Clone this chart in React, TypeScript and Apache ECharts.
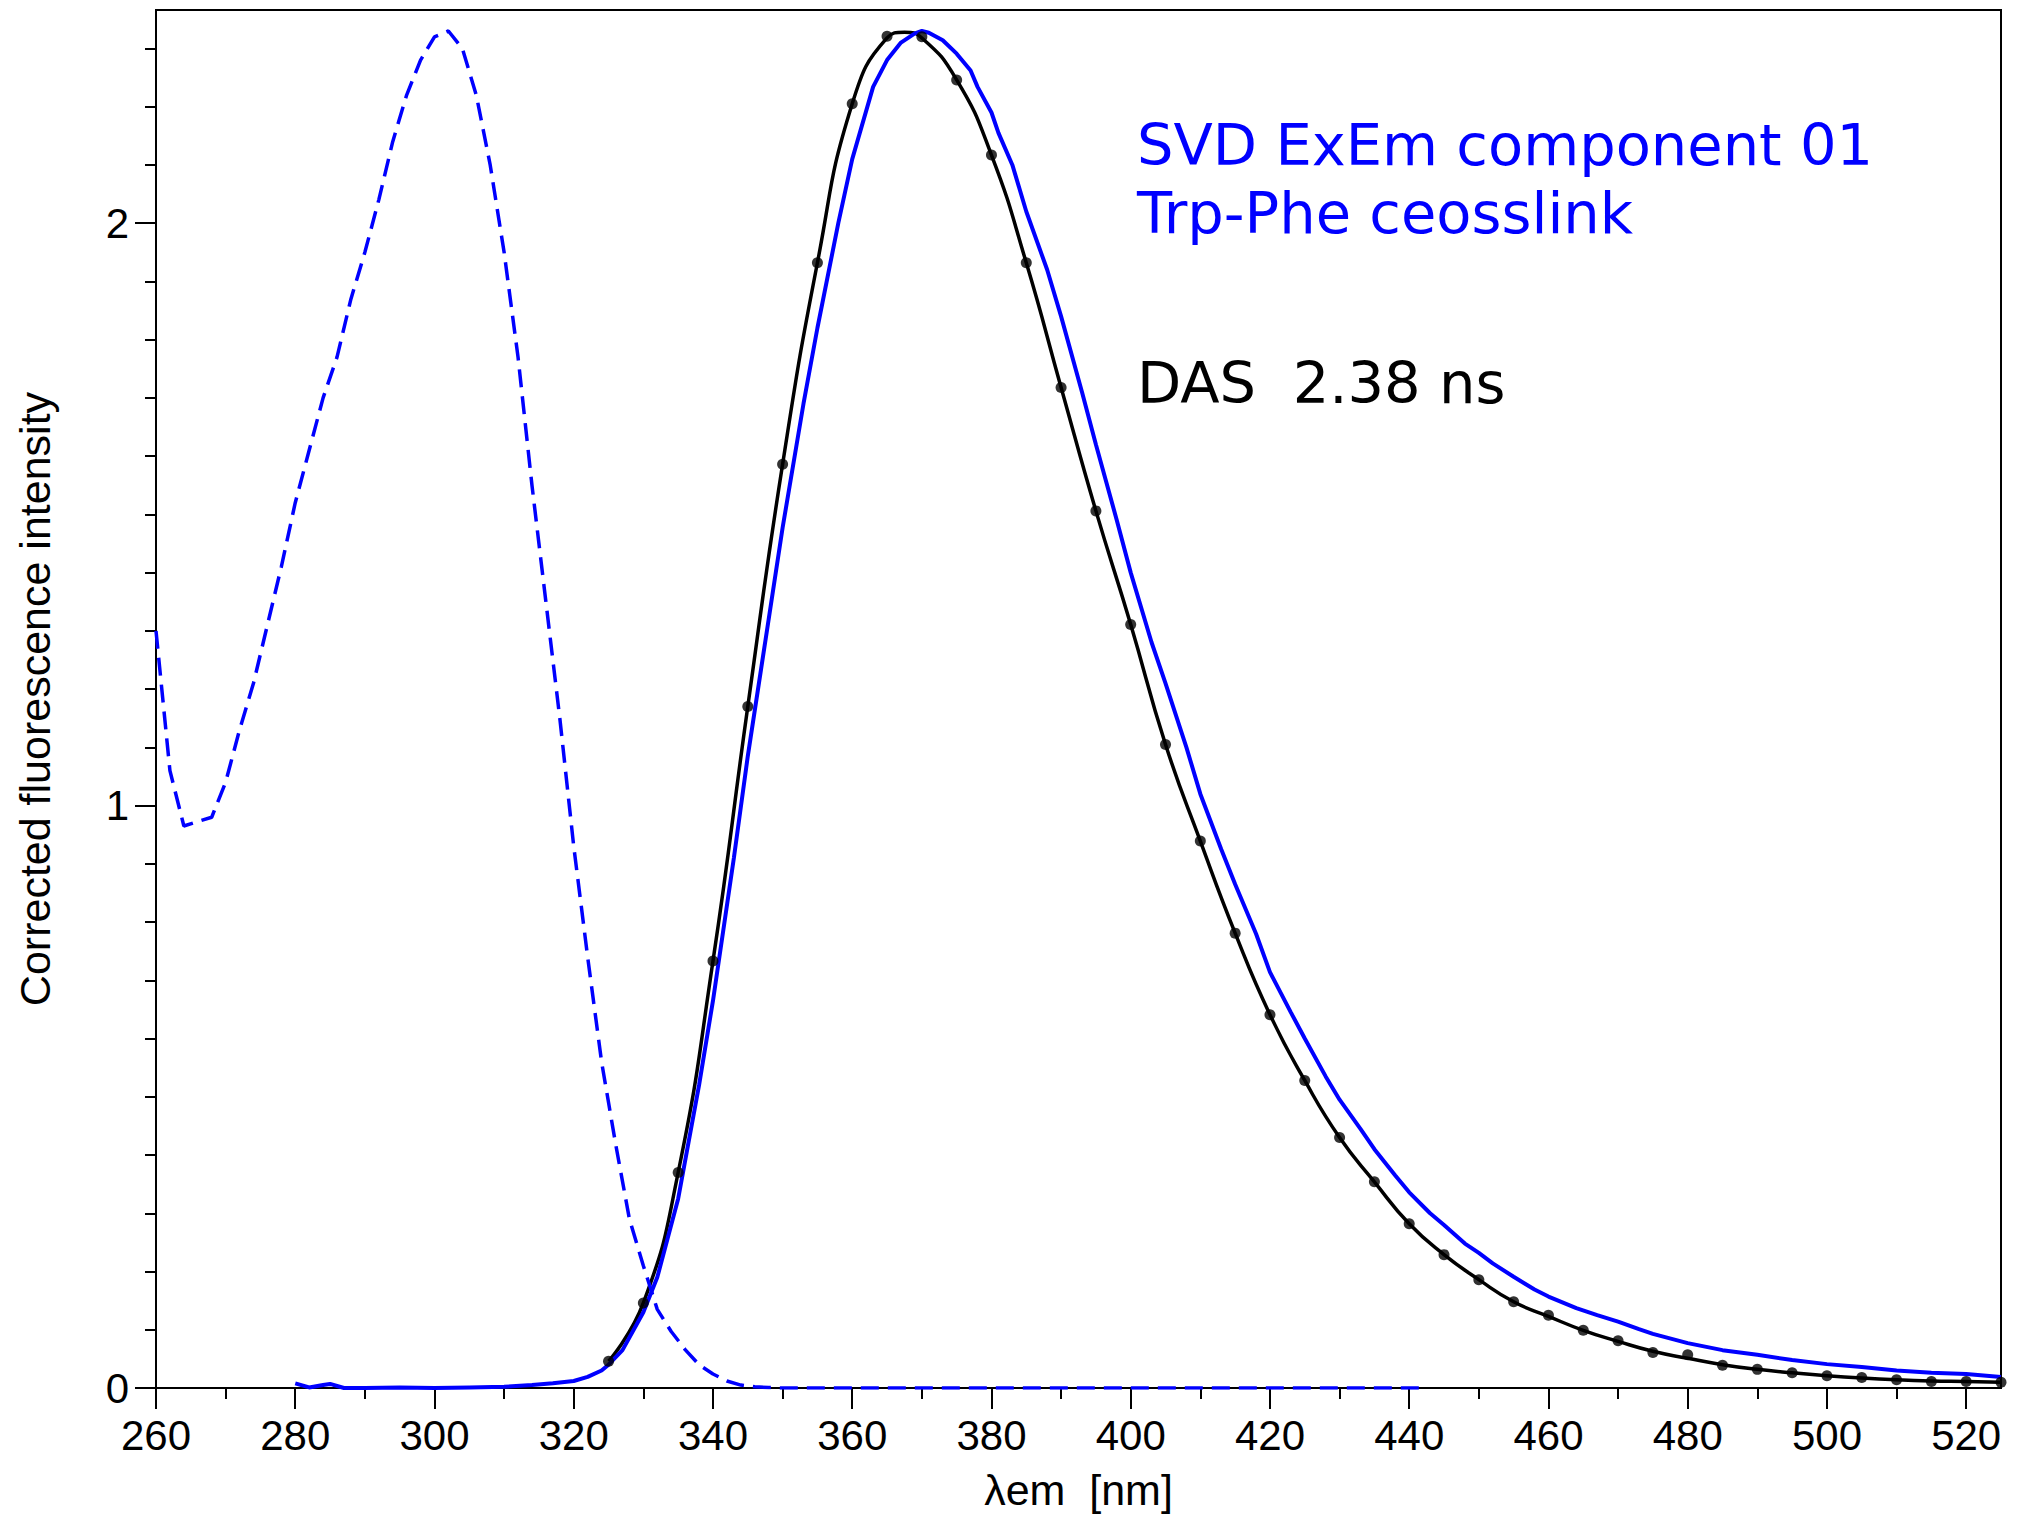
import React, { useEffect, useRef } from "react";
import * as echarts from "echarts";

// Excitation spectrum (blue dashed)
const excitationNm = [260, 262, 264, 268, 270, 272, 274, 276, 278, 280, 282, 284, 286, 288, 290, 292, 294, 296, 298, 300, 302, 304, 306, 308, 310, 312, 314, 316, 318, 320, 322, 324, 326, 328, 330, 332, 334, 336, 338, 340, 342, 344, 346, 348, 350, 360, 380, 400, 420, 442];
const excitationVal = [1.30, 1.06, 0.965, 0.98, 1.04, 1.13, 1.21, 1.31, 1.41, 1.52, 1.61, 1.70, 1.77, 1.87, 1.95, 2.04, 2.14, 2.22, 2.28, 2.32, 2.33, 2.30, 2.22, 2.10, 1.95, 1.77, 1.55, 1.35, 1.15, 0.93, 0.74, 0.56, 0.42, 0.29, 0.21, 0.135, 0.097, 0.066, 0.040, 0.024, 0.012, 0.005, 0.002, 0.001, 0, 0, 0, 0, 0, 0];

// Measured emission spectrum (blue solid)
const emissionNm = [280, 282, 284, 285, 287, 290, 295, 300, 305, 310, 314, 317, 320, 322, 324, 325, 327, 330, 332, 335, 338, 340, 343, 345, 348, 350, 353, 355, 358, 360, 363, 365, 367, 369, 370, 371, 373, 375, 377, 378, 380, 381, 383, 385, 388, 390, 393, 395, 398, 400, 403, 405, 408, 410, 413, 415, 418, 420, 423, 425, 428, 430, 433, 435, 438, 440, 443, 445, 448, 450, 452, 455, 458, 460, 464, 467, 470, 473, 475, 480, 485, 490, 495, 500, 505, 510, 515, 520, 525];
const emissionVal = [0.008, 0.001, 0.005, 0.007, 0.0, 0.0, 0.001, 0.0, 0.001, 0.002, 0.005, 0.008, 0.012, 0.019, 0.03, 0.04, 0.065, 0.13, 0.19, 0.325, 0.52, 0.665, 0.91, 1.085, 1.32, 1.477, 1.69, 1.82, 2.00, 2.11, 2.234, 2.28, 2.31, 2.326, 2.33, 2.327, 2.314, 2.291, 2.262, 2.234, 2.19, 2.155, 2.10, 2.02, 1.92, 1.84, 1.71, 1.62, 1.49, 1.40, 1.28, 1.21, 1.10, 1.02, 0.925, 0.865, 0.78, 0.714, 0.645, 0.60, 0.535, 0.495, 0.445, 0.41, 0.365, 0.336, 0.30, 0.28, 0.248, 0.232, 0.214, 0.191, 0.169, 0.157, 0.137, 0.125, 0.114, 0.101, 0.093, 0.077, 0.065, 0.057, 0.048, 0.041, 0.036, 0.030, 0.026, 0.024, 0.019];

// DAS fit sample points (black dots)
const fitDotNm = [325, 330, 335, 340, 345, 350, 355, 360, 365, 370, 375, 380, 385, 390, 395, 400, 405, 410, 415, 420, 425, 430, 435, 440, 445, 450, 455, 460, 465, 470, 475, 480, 485, 490, 495, 500, 505, 510, 515, 520, 525];
const fitDotVal = [0.046, 0.146, 0.37, 0.733, 1.17, 1.586, 1.932, 2.205, 2.321, 2.32, 2.246, 2.117, 1.932, 1.718, 1.506, 1.311, 1.105, 0.939, 0.781, 0.641, 0.528, 0.43, 0.354, 0.282, 0.229, 0.186, 0.148, 0.125, 0.099, 0.081, 0.061, 0.057, 0.039, 0.032, 0.026, 0.021, 0.018, 0.014, 0.011, 0.011, 0.0097];

// DAS fit curve (black solid)
const fitCurveNm = [325, 330, 335, 340, 345, 350, 355, 360, 365, 367.5, 370, 375, 380, 385, 390, 395, 400, 405, 410, 415, 420, 425, 430, 435, 440, 445, 450, 455, 460, 465, 470, 475, 480, 485, 490, 495, 500, 505, 510, 515, 520, 525];
const fitCurveVal = [0.046, 0.146, 0.37, 0.733, 1.17, 1.586, 1.932, 2.205, 2.318, 2.328, 2.318, 2.246, 2.117, 1.932, 1.718, 1.506, 1.311, 1.105, 0.939, 0.781, 0.641, 0.528, 0.43, 0.354, 0.282, 0.229, 0.186, 0.148, 0.123, 0.099, 0.08, 0.063, 0.051, 0.04, 0.032, 0.026, 0.021, 0.017, 0.014, 0.012, 0.011, 0.0097];

// Axis ticks
const xMajorTicks = [260, 280, 300, 320, 340, 360, 380, 400, 420, 440, 460, 480, 500, 520];
const xMinorTicks = [270, 290, 310, 330, 350, 370, 390, 410, 430, 450, 470, 490, 510];
const yMajorTicks = [0, 1, 2];
const yMinorTicks = [0.1, 0.2, 0.3, 0.4, 0.5, 0.6, 0.7, 0.8, 0.9, 1.1, 1.2, 1.3, 1.4, 1.5, 1.6, 1.7, 1.8, 1.9, 2.1, 2.2, 2.3];

const BLUE = "#0000FF";
const FONT = "Liberation Sans";
const ANNO_FONT = "DejaVu Sans";

const pairs = (xs: number[], ys: number[]) => xs.map((x, i) => [x, ys[i]]);

export default function App() {
  const ref = useRef<HTMLDivElement>(null);
  useEffect(() => {
    const chart = echarts.init(ref.current!, null, { renderer: "svg" });
    const axisLine = { show: true, onZero: false, lineStyle: { color: "#000", width: 2 } };
    chart.setOption({
      animation: false,
      backgroundColor: "#fff",
      textStyle: { fontFamily: FONT },
      grid: {
        left: 156,
        right: 26,
        top: 10,
        bottom: 128,
        show: true,
        borderColor: "#000",
        borderWidth: 2,
        backgroundColor: "transparent",
      },
      xAxis: [
        {
          type: "value",
          min: 260,
          max: 525,
          position: "bottom",
          axisLine,
          splitLine: { show: false },
          axisTick: { show: true, inside: false, length: 21, lineStyle: { color: "#000", width: 2 }, customValues: xMajorTicks },
          axisLabel: { customValues: xMajorTicks, fontSize: 42, fontFamily: FONT, color: "#000", margin: 26 },
          name: "λem  [nm]",
          nameLocation: "middle",
          nameGap: 80,
          nameTextStyle: { fontSize: 43, fontFamily: FONT, color: "#000" },
        },
        {
          type: "value",
          min: 260,
          max: 525,
          position: "bottom",
          axisLine: { show: false },
          splitLine: { show: false },
          axisTick: { show: true, inside: false, length: 11, lineStyle: { color: "#000", width: 2 }, customValues: xMinorTicks },
          axisLabel: { show: false },
        },
      ],
      yAxis: [
        {
          type: "value",
          min: 0,
          max: 2.366,
          position: "left",
          axisLine,
          splitLine: { show: false },
          axisTick: { show: true, inside: false, length: 21, lineStyle: { color: "#000", width: 2 }, customValues: yMajorTicks },
          axisLabel: { customValues: yMajorTicks, fontSize: 42, fontFamily: FONT, color: "#000", margin: 27 },
          name: "Corrected fluorescence intensity",
          nameLocation: "middle",
          nameRotate: 90,
          nameGap: 100,
          nameTextStyle: { fontSize: 43, fontFamily: FONT, color: "#000" },
        },
        {
          type: "value",
          min: 0,
          max: 2.366,
          position: "left",
          axisLine: { show: false },
          splitLine: { show: false },
          axisTick: { show: true, inside: false, length: 11, lineStyle: { color: "#000", width: 2 }, customValues: yMinorTicks },
          axisLabel: { show: false },
        },
      ],
      series: [
        {
          name: "DAS fit",
          type: "line",
          data: pairs(fitCurveNm, fitCurveVal),
          smooth: 0.5,
          showSymbol: false,
          symbol: "none",
          lineStyle: { color: "#000", width: 3.5 },
          z: 2,
        },
        {
          name: "Emission",
          type: "line",
          data: pairs(emissionNm, emissionVal),
          showSymbol: false,
          symbol: "none",
          lineStyle: { color: BLUE, width: 4 },
          z: 3,
        },
        {
          name: "Excitation",
          type: "line",
          data: pairs(excitationNm, excitationVal),
          showSymbol: false,
          symbol: "none",
          lineStyle: { color: BLUE, width: 3.5, type: [18, 9] },
          z: 4,
        },
        {
          name: "DAS points",
          type: "scatter",
          data: pairs(fitDotNm, fitDotVal),
          symbol: "circle",
          symbolSize: 11,
          itemStyle: { color: "#000" },
          z: 5,
        },
      ],
      graphic: [
        {
          type: "text",
          left: 1137,
          top: 116,
          style: { text: "SVD ExEm component 01", fill: BLUE, font: `57.5px "${ANNO_FONT}"` },
        },
        {
          type: "text",
          left: 1137,
          top: 184,
          style: { text: "Trp-Phe ceosslink", fill: BLUE, font: `57.5px "${ANNO_FONT}"` },
        },
        {
          type: "text",
          left: 1137,
          top: 354,
          style: { text: "DAS  2.38 ns", fill: "#000", font: `57.5px "${ANNO_FONT}"` },
        },
      ],
    });
    return () => chart.dispose();
  }, []);
  return (
    <div
      ref={ref}
      style={{ position: "fixed", left: 0, top: 0, width: 2027, height: 1516, background: "#fff" }}
    />
  );
}
